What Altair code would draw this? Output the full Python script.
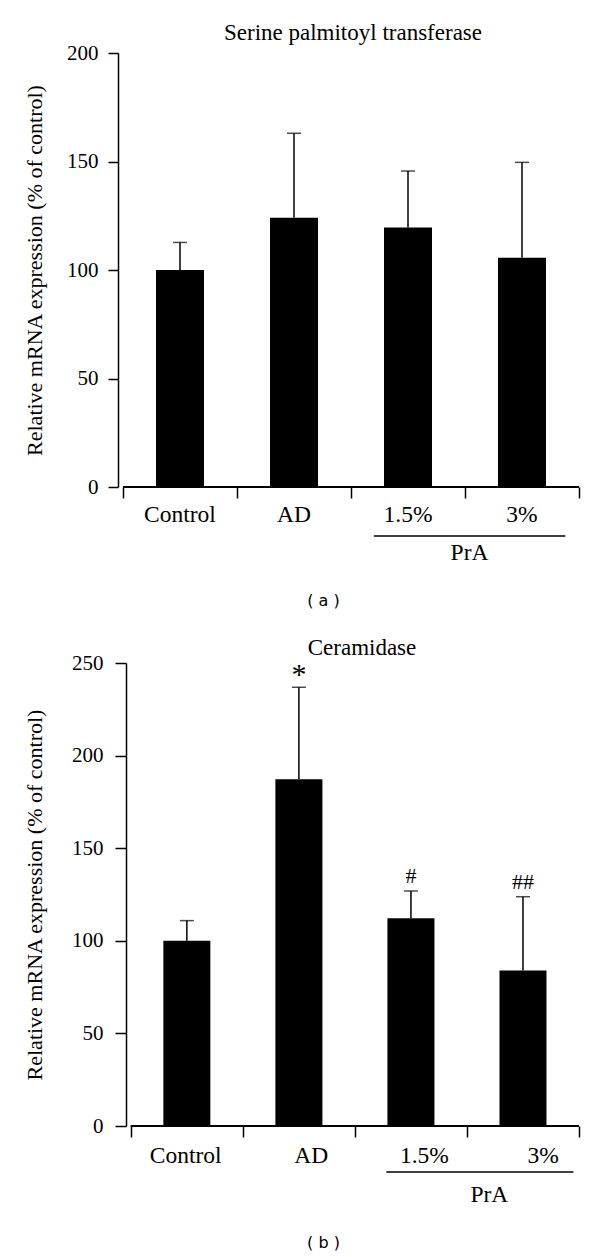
import altair as alt
import pandas as pd

SERIF = "Liberation Serif"

groups = ["Control", "AD", "1.5%", "3%"]
bar_pos = [0.5, 1.5, 2.5, 3.5]
axis_ticks = [0, 1, 2, 3, 4]

# Panel (a): Serine palmitoyl transferase
spt_mean = [100.0, 124.1, 119.6, 105.7]
spt_err = [12.7, 38.9, 26.0, 43.9]
spt_marks = ["", "", "", ""]
label_pos_a = [0.5, 1.5, 2.5, 3.5]
pra_a = [2.2, 3.88, 3.04]

# Panel (b): Ceramidase
cer_mean = [100.0, 187.2, 112.2, 84.0]
cer_err = [10.9, 49.7, 14.7, 39.8]
cer_marks = ["", "*", "#", "##"]
label_pos_b = [0.49, 1.61, 2.62, 3.68]
pra_b = [2.28, 3.95, 3.2]


def panel(mean, err, marks, label_pos, pra, title, title_dx, title_off, ymax,
          h, x_start, bar_w, caption, cap_y, title_pad, label_pad, tick_size,
          y_off, lab_y, pra_y, pra_ty):
    df = pd.DataFrame({
        "group": groups,
        "pos": bar_pos,
        "mean": mean,
        "top": [m + e for m, e in zip(mean, err)],
        "mark": marks,
        "label_pos": label_pos,
    })
    xs = alt.Scale(domain=[x_start, 4], nice=False, zero=False)
    ys = alt.Scale(domain=[0, ymax], nice=False)
    base = alt.Chart(df)
    bars = base.mark_bar(color="black", width=bar_w).encode(
        x=alt.X("pos:Q", scale=xs,
                axis=alt.Axis(values=axis_ticks, labels=False, tickSize=11,
                              domain=False,
                              title=caption, titleFont="DejaVu Sans",
                              titleFontSize=16, titleX=205, titleY=cap_y,
                              titleBaseline="middle", titleFontWeight="normal")),
        y=alt.Y("mean:Q", scale=ys,
                axis=alt.Axis(values=list(range(0, ymax + 1, 50)),
                              title="Relative mRNA expression (% of control)",
                              titleFont=SERIF, titleFontSize=22,
                              titleFontWeight="normal", titlePadding=title_pad,
                              labelPadding=label_pad, tickSize=tick_size,
                              offset=y_off)),
    )
    xline = base.mark_rule(color="black", strokeWidth=1.5).encode(
        x=alt.datum(0), x2=alt.datum(4), y=alt.datum(0))
    err_rule = base.mark_rule(color="black", strokeWidth=1.5).encode(
        x="pos:Q", y="mean:Q", y2="top:Q")
    caps = base.mark_tick(orient="horizontal", size=14, thickness=1.5,
                          color="black").encode(x="pos:Q", y="top:Q")
    star = base.transform_filter(alt.datum.mark == "*").mark_text(
        baseline="bottom", dy=3, font=SERIF, fontSize=30, color="black"
    ).encode(x="pos:Q", y="top:Q", text="mark:N")
    hashes = base.transform_filter(
        (alt.datum.mark != "*") & (alt.datum.mark != "")
    ).mark_text(baseline="bottom", dy=-3, font=SERIF, fontSize=22,
                color="black").encode(x="pos:Q", y="top:Q", text="mark:N")
    labels = base.mark_text(baseline="top", font=SERIF, fontSize=23.5,
                            color="black").encode(
        x="label_pos:Q", y=alt.value(h + lab_y), text="group:N")
    pdf = pd.DataFrame({"x": [pra[0]], "x2": [pra[1]], "c": [pra[2]], "t": ["PrA"]})
    pra_line = alt.Chart(pdf).mark_rule(color="black", strokeWidth=1.5).encode(
        x="x:Q", x2="x2:Q", y=alt.value(h + pra_y))
    pra_text = alt.Chart(pdf).mark_text(baseline="top", font=SERIF, fontSize=23.5,
                                        color="black").encode(
        x="c:Q", y=alt.value(h + pra_ty), text="t:N")
    return alt.layer(bars, xline, err_rule, caps, star, hashes, labels,
                     pra_line, pra_text).properties(
        width=466, height=h,
        title=alt.Title(title, font=SERIF, fontSize=23, fontWeight="normal",
                        color="black", offset=title_off, dx=title_dx),
    )


pa = panel(spt_mean, spt_err, spt_marks, label_pos_a, pra_a,
           "Serine palmitoyl transferase", 2, -3, 200, 434, 0, 48,
           "( a )", 113, 20, 10, 10, 0, 16, 49, 54)
pb = panel(cer_mean, cer_err, cer_marks, label_pos_b, pra_b,
           "Ceramidase", 11, -7.5, 250, 463, -8 / 114.5, 47,
           "( b )", 116, 25, 12, 11, -8, 18, 46, 57)

chart = alt.vconcat(pa, pb, spacing=28).properties(
    padding={"left": 15, "top": 14, "right": 5, "bottom": 5}
).configure_view(stroke=None).configure_axis(
    domainColor="black", domainWidth=1.5, tickColor="black", tickWidth=1.5,
    labelColor="black", labelFont=SERIF, labelFontSize=21, titleColor="black",
    grid=False,
)

chart.save("out.html", embed_options={"renderer": "svg", "actions": False})
